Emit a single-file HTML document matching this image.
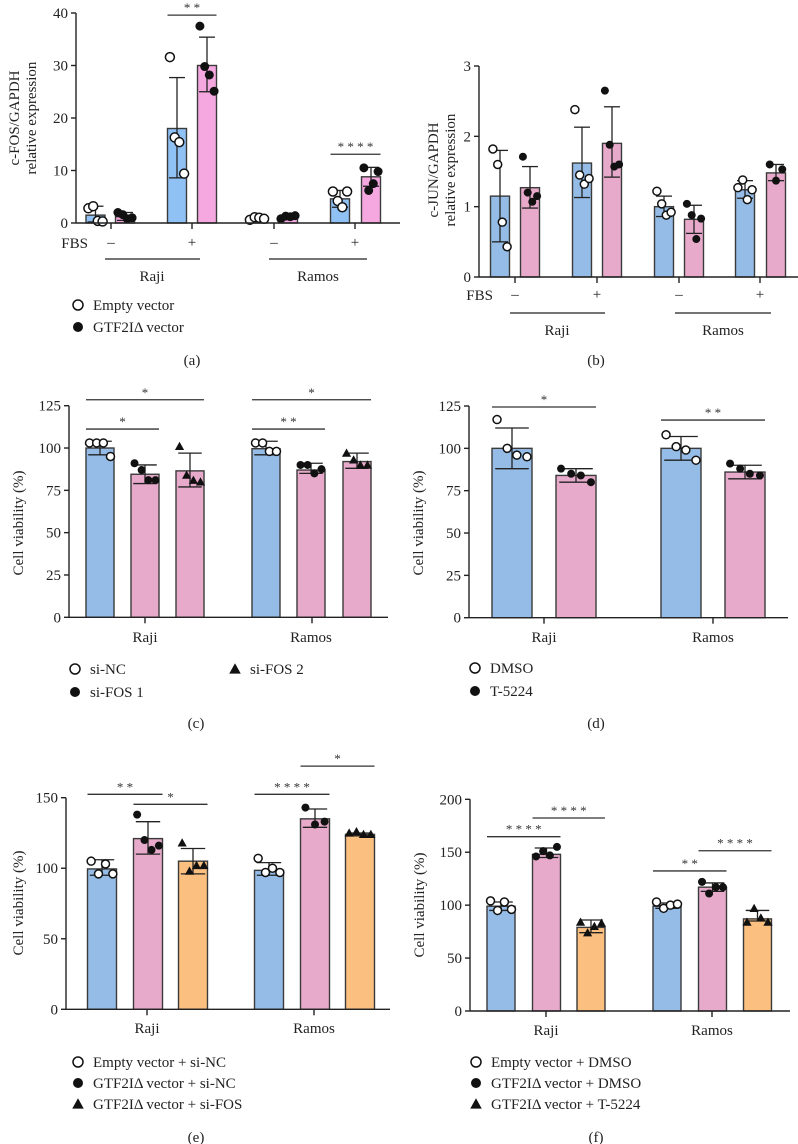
<!DOCTYPE html>
<html><head><meta charset="utf-8"><style>
html,body{margin:0;padding:0;background:#fff;}
svg{display:block;font-family:"Liberation Serif",serif;}
</style></head><body>
<svg id="fig" width="798" height="1144" viewBox="0 0 798 1144" xmlns="http://www.w3.org/2000/svg"></svg>
<script>
// ---------- Panel (a) data ----------
const aMeans=[1.5,1.2,18,30,0.9,1.2,4.6,8.8];
const aErrHi=[3.2,2.0,27.7,35.4,1.2,1.5,6.2,10.6];
const aErrLo=[0.2,0.5,8.6,25,0.6,0.9,3.0,7.0];
const aPoints=[[2.8,3.2,0.4,0.3],[2.0,1.6,0.8,1.0],[31.6,16.3,15.4,9.4],[37.5,29.8,28.2,25.1],[0.6,1.1,1.0,0.8],[0.8,1.3,1.2,1.4],[6.0,4.2,3.0,6.0],[10.5,6.2,7.5,9.8]];
const aTicks=[0,10,20,30,40];
const aSig=[{from:2,to:3,y:39.6,t:"* *"},{from:6,to:7,y:13.1,t:"* * * *"}];
// ---------- Panel (b) data ----------
const bMeans=[1.15,1.27,1.62,1.9,1.0,0.82,1.24,1.48];
const bErrHi=[1.8,1.57,2.13,2.42,1.15,1.02,1.37,1.6];
const bErrLo=[0.5,0.98,1.13,1.42,0.86,0.62,1.12,1.37];
const bPoints=[[1.82,1.6,0.78,0.43],[1.71,1.2,1.07,1.15],[2.38,1.45,1.32,1.4],[2.65,1.88,1.57,1.6],[1.22,1.04,0.88,0.92],[1.04,0.88,0.54,0.83],[1.27,1.38,1.1,1.24],[1.6,1.37,1.53]];
const bTicks=[0,1,2,3];
// ---------- Panel (c) data ----------
const cMeans=[100,84.5,86.5,99.6,87,92];
const cErrHi=[104,90,97,104,91,97];
const cErrLo=[96,79,77,96,85,88];
const cPoints=[[103,103,103,95],[91,87,81,81],[101,84,81,80],[103,103,98,98],[90,90,85,87.5],[97,93,90,90]];
const cTicks=[0,25,50,75,100,125];
const cSig=[{from:0,to:1,y:111.2,t:"*"},{from:0,to:2,y:128.5,t:"*"},{from:3,to:4,y:111.2,t:"* *"},{from:3,to:5,y:128.5,t:"*"}];
// ---------- Panel (d) data ----------
const dMeans=[100,84,100,86];
const dErrHi=[112,88,107,90];
const dErrLo=[88,80,93,82];
const dPoints=[[117,100,96,95],[88,85,84,80],[108,101,99,93],[91,88,85,84]];
const dTicks=[0,25,50,75,100,125];
const dSig=[{from:0,to:1,y:124.4,t:"*"},{from:2,to:3,y:116.7,t:"* *"}];
// ---------- Panel (e) data ----------
const eMeans=[99.5,121,105,98.5,135,124];
const eErrHi=[106,133,114,104,142,125];
const eErrLo=[95,110,96,95,129,123];
const ePoints=[[105,96,103,96],[138,120,113,116],[118,98,102,102],[107,97,100,97],[143,131,133],[125,126,124,124]];
const eTicks=[0,50,100,150];
const eSig=[{from:0,to:1,y:152.4,t:"* *"},{from:1,to:2,y:145.3,t:"*"},{from:3,to:4,y:152.4,t:"* * * *"},{from:4,to:5,y:172.4,t:"*"}];
// ---------- Panel (f) data ----------
const fMeans=[99,148,79,99,117,87];
const fErrHi=[103,154,86,102,121,95];
const fErrLo=[95,145,74,97,113,85];
const fPoints=[[104,95,103,96],[146,151,147,155],[84,74,80,83],[103,97,100,101],[122,111,117,117],[84,97,88,84]];
const fTicks=[0,50,100,150,200];
const fSig=[{from:0,to:1,y:164.7,t:"* * * *"},{from:1,to:2,y:182.3,t:"* * * *"},{from:3,to:4,y:132.3,t:"* *"},{from:4,to:5,y:151.4,t:"* * * *"}];

const NS="http://www.w3.org/2000/svg";
const svg=document.getElementById('fig');
function mk(tag,attrs,parent,text){const e=document.createElementNS(NS,tag);for(const k in attrs)e.setAttribute(k,attrs[k]);if(text!==undefined)e.textContent=text;(parent||svg).appendChild(e);return e;}

function marker(g,shape,x,y,r){
  let e;
  if(shape==='open'){e=mk('circle',{cx:x,cy:y,r:r,fill:'#fff',stroke:'#111','stroke-width':1.5},g);}
  else if(shape==='fill'){e=mk('circle',{cx:x,cy:y,r:r,fill:'#111'},g);}
  else{const s=r*1.15;e=mk('polygon',{points:`${x},${y-s} ${x+s},${y+s*0.8} ${x-s},${y+s*0.8}`,fill:'#111'},g);}
  
  
}

function panel(p){
  const g=mk('g',{});
  
  
  const ymax=p.ticks[p.ticks.length-1];
  const Y=v=>p.y0-(v/ymax)*(p.y0-p.y1);
  // bars
  p.means.forEach((m,i)=>{
    const cx=p.cx[i],w=p.bw;
    const r=mk('rect',{x:cx-w/2,y:Y(m),width:w,height:p.y0-Y(m),fill:p.colors[i],stroke:'#3a3a3a','stroke-width':1.4},g);
    
    
  });
  // error bars
  p.means.forEach((m,i)=>{
    const cx=p.cx[i],cw=p.bw*0.42;
    const eg=mk('g',{stroke:'#222','stroke-width':1.3},g);
    
    
    mk('line',{x1:cx,x2:cx,y1:Y(p.hi[i]),y2:Y(p.lo[i])},eg);
    mk('line',{x1:cx-cw,x2:cx+cw,y1:Y(p.hi[i]),y2:Y(p.hi[i])},eg);
    mk('line',{x1:cx-cw,x2:cx+cw,y1:Y(p.lo[i]),y2:Y(p.lo[i])},eg);
  });
  // points
  const offs4=[-0.34,-0.11,0.11,0.34],offs3=[-0.3,0,0.3];
  p.pts.forEach((arr,i)=>{
    const offs=arr.length===3?offs3:offs4;
    arr.forEach((v,j)=>marker(g,p.shapes[i],p.cx[i]+offs[j]*p.bw*1.1,Y(v),p.r));
  });
  // axes
  const ax=mk('g',{stroke:'#222','stroke-width':1.4},g);
  
  
  mk('line',{x1:p.ax,x2:p.ax,y1:Y(ymax),y2:p.y0},ax);
  mk('line',{x1:p.ax,x2:p.xend,y1:p.y0,y2:p.y0},ax);
  p.ticks.forEach(t=>{
    mk('line',{x1:p.ax-5,x2:p.ax,y1:Y(t),y2:Y(t)},ax);
    const tl=mk('text',{x:p.ax-8,y:Y(t)+5,'text-anchor':'end','font-size':15,fill:'#222'},g,String(t));
    
    
  });
  p.xt.forEach(x=>mk('line',{x1:x,x2:x,y1:p.y0,y2:p.y0+6},ax));
  // y title
  const yt=mk('text',{transform:`translate(${p.ytx},${p.yty}) rotate(-90)`,'text-anchor':'middle','font-size':15,fill:'#222'},g);
  
  
  p.ytitle.forEach((l,k)=>mk('tspan',{x:0,dy:k===0?0:17},yt,l));
  // sig
  (p.sig||[]).forEach(s=>{
    const x1=p.cx[s.from]-p.bw/2,x2=p.cx[s.to]+p.bw/2,y=Y(s.y);
    const sl=mk('line',{x1:x1,x2:x2,y1:y,y2:y,stroke:'#333','stroke-width':1.3},g);
    
    
    const st=mk('text',{x:(x1+x2)/2,y:y-3,'text-anchor':'middle','font-size':13,fill:'#333'},g,s.t);
    
    
  });
  return g;
}
function txt(x,y,s,name,opt){const e=mk('text',Object.assign({x:x,y:y,'font-size':15,fill:'#222'},opt||{}),svg,s);return e;}
function legend(x,y,shape,label){marker(svg,shape,x,y,5);txt(x+15,y+5,label,'legend-entry');}

const B='#94bce6',P='#e8aacb',O='#fbbf80';
// (a)
panel({name:'panel-a',means:aMeans,hi:aErrHi,lo:aErrLo,pts:aPoints,ticks:aTicks,sig:aSig,
  ax:76,xend:400,y0:223,y1:13,bw:19,r:4.5,cx:[95.5,125,177,207,257,288,340,371],
  colors:['#8fc1f5','#f5a8e0','#8fc1f5','#f5a8e0','#8fc1f5','#f5a8e0','#8fc1f5','#f5a8e0'],
  shapes:['open','fill','open','fill','open','fill','open','fill'],xt:[111,192,274,355],
  ytitle:['c-FOS/GAPDH','relative expression'],ytx:19,yty:118});
txt(88,248,'FBS','fbs-label',{'text-anchor':'end'});
[['–',111],['+',192],['–',274],['+',355]].forEach(a=>txt(a[1],247,a[0],'fbs-sign',{'text-anchor':'middle'}));
mk('line',{x1:105,x2:200,y1:259,y2:259,stroke:'#222','stroke-width':1.3});
mk('line',{x1:269,x2:367,y1:259,y2:259,stroke:'#222','stroke-width':1.3});
txt(152,281,'Raji','x-group-label',{'text-anchor':'middle'});
txt(318,281,'Ramos','x-group-label',{'text-anchor':'middle'});
legend(78,305,'open','Empty vector');legend(78,327,'fill','GTF2IΔ vector');
txt(192,365,'(a)','panel-label',{'text-anchor':'middle'});
// (b)
panel({name:'panel-b',means:bMeans,hi:bErrHi,lo:bErrLo,pts:bPoints,ticks:bTicks,
  ax:479,xend:798,y0:277,y1:66,bw:19,r:4,cx:[500,530,582,612,664,694,745,776],
  colors:[B,P,B,P,B,P,B,P],shapes:['open','fill','open','fill','open','fill','open','fill'],xt:[515,597,679,760],
  ytitle:['c-JUN/GAPDH','relative expression'],ytx:438,yty:170});
txt(493,300,'FBS','fbs-label',{'text-anchor':'end'});
[['–',515],['+',597],['–',679],['+',760]].forEach(a=>txt(a[1],299,a[0],'fbs-sign',{'text-anchor':'middle'}));
mk('line',{x1:510,x2:605,y1:313,y2:313,stroke:'#222','stroke-width':1.3});
mk('line',{x1:675,x2:771,y1:313,y2:313,stroke:'#222','stroke-width':1.3});
txt(557,335,'Raji','x-group-label',{'text-anchor':'middle'});
txt(723,335,'Ramos','x-group-label',{'text-anchor':'middle'});
txt(596,365,'(b)','panel-label',{'text-anchor':'middle'});
// (c)
panel({name:'panel-c',means:cMeans,hi:cErrHi,lo:cErrLo,pts:cPoints,ticks:cTicks,sig:cSig,
  ax:69,xend:388,y0:617.3,y1:405.7,bw:28,r:4,cx:[100,145,190,266,311,357],
  colors:[B,P,P,B,P,P],shapes:['open','fill','tri','open','fill','tri'],xt:[145,312],
  ytitle:['Cell viability (%)'],ytx:23,yty:523});
txt(145,642,'Raji','x-group-label',{'text-anchor':'middle'});
txt(311,642,'Ramos','x-group-label',{'text-anchor':'middle'});
legend(75,669,'open','si-NC');legend(75,692,'fill','si-FOS 1');legend(235,669,'tri','si-FOS 2');
txt(196,728,'(c)','panel-label',{'text-anchor':'middle'});
// (d)
panel({name:'panel-d',means:dMeans,hi:dErrHi,lo:dErrLo,pts:dPoints,ticks:dTicks,sig:dSig,
  ax:469,xend:788,y0:617.7,y1:406,bw:40,r:4,cx:[512,576,681,745],
  colors:[B,P,B,P],shapes:['open','fill','open','fill'],xt:[544,713],
  ytitle:['Cell viability (%)'],ytx:423,yty:523});
txt(544,642,'Raji','x-group-label',{'text-anchor':'middle'});
txt(713,642,'Ramos','x-group-label',{'text-anchor':'middle'});
legend(475,668,'open','DMSO');legend(475,691,'fill','T-5224');
txt(596,728,'(d)','panel-label',{'text-anchor':'middle'});
// (e)
panel({name:'panel-e',means:eMeans,hi:eErrHi,lo:eErrLo,pts:ePoints,ticks:eTicks,sig:eSig,
  ax:66,xend:390,y0:1009.3,y1:797.7,bw:29,r:4,cx:[102,148,193,269,315,360],
  colors:[B,P,O,B,P,O],shapes:['open','fill','tri','open','fill','tri'],xt:[147,314],
  ytitle:['Cell viability (%)'],ytx:23,yty:903});
txt(147,1033,'Raji','x-group-label',{'text-anchor':'middle'});
txt(314,1033,'Ramos','x-group-label',{'text-anchor':'middle'});
legend(78,1062,'open','Empty vector + si-NC');legend(78,1083,'fill','GTF2IΔ vector + si-NC');legend(78,1104,'tri','GTF2IΔ vector + si-FOS');
txt(196,1142,'(e)','panel-label',{'text-anchor':'middle'});
// (f)
panel({name:'panel-f',means:fMeans,hi:fErrHi,lo:fErrLo,pts:fPoints,ticks:fTicks,sig:fSig,
  ax:470,xend:790,y0:1011,y1:799.3,bw:28,r:4,cx:[501,546.5,591,667,712.5,757.5],
  colors:[B,P,O,B,P,O],shapes:['open','fill','tri','open','fill','tri'],xt:[546,712],
  ytitle:['Cell viability (%)'],ytx:424,yty:905});
txt(546,1035,'Raji','x-group-label',{'text-anchor':'middle'});
txt(712,1035,'Ramos','x-group-label',{'text-anchor':'middle'});
legend(476,1062,'open','Empty vector + DMSO');legend(476,1083,'fill','GTF2IΔ vector + DMSO');legend(476,1104,'tri','GTF2IΔ vector + T-5224');
txt(596,1142,'(f)','panel-label',{'text-anchor':'middle'});
</script>
</body></html>
